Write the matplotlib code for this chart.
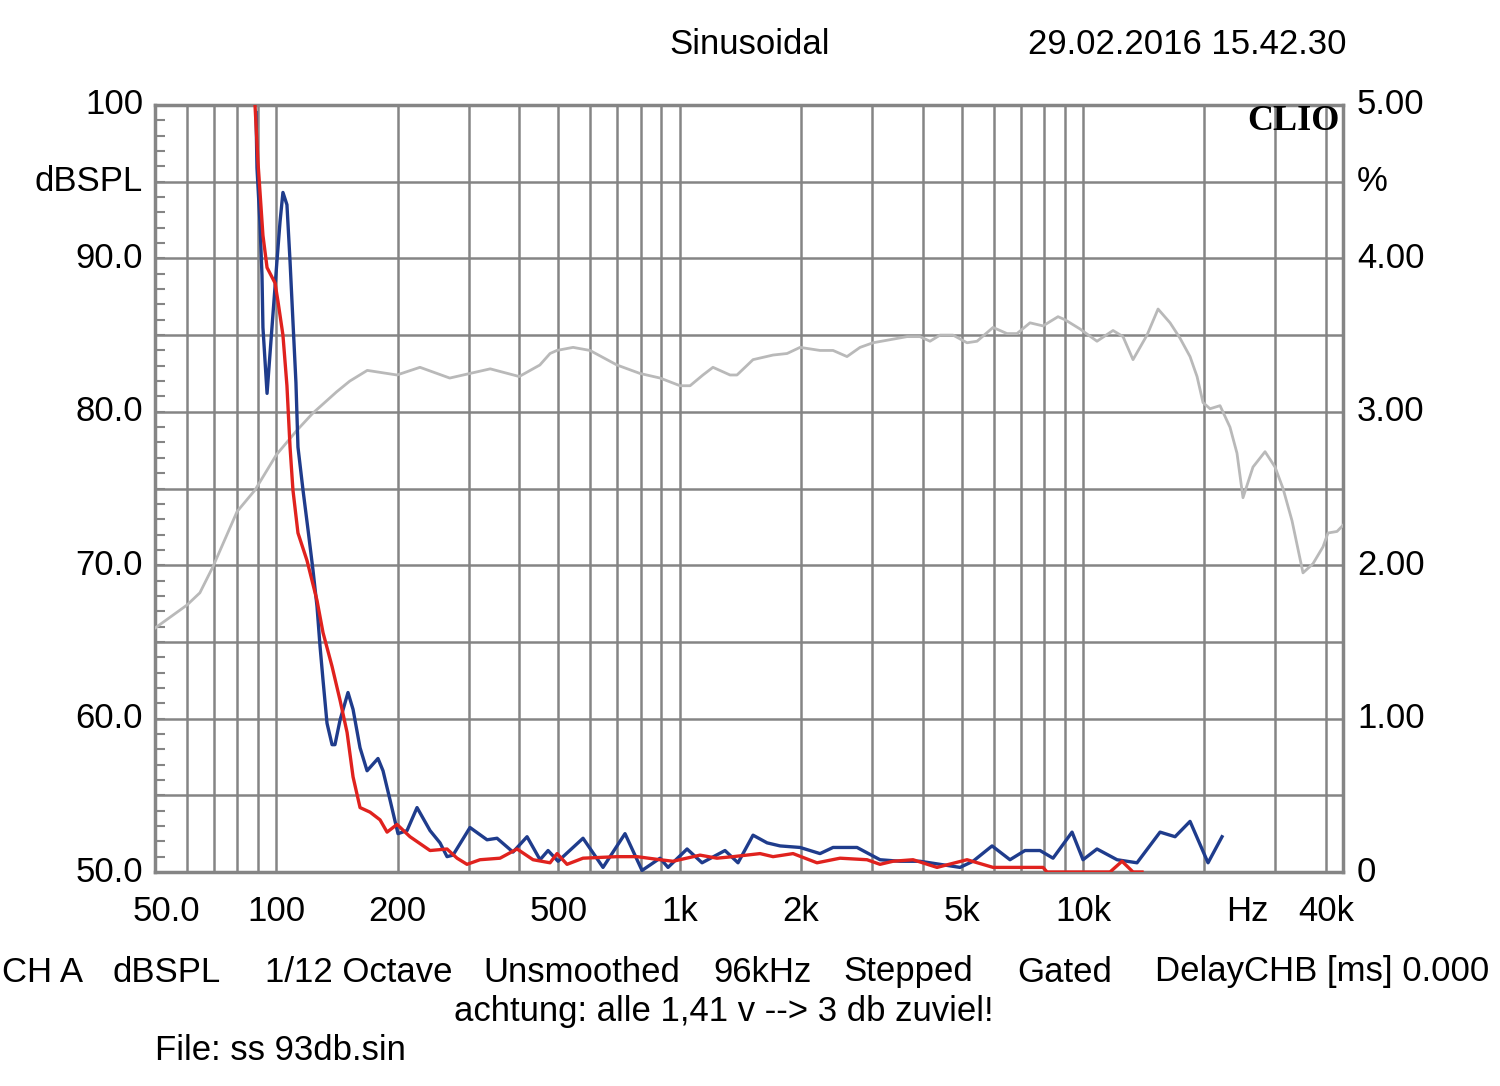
import numpy as np
import matplotlib
matplotlib.use("Agg")
import matplotlib.pyplot as plt
from matplotlib.transforms import blended_transform_factory

plt.rcParams['font.family'] = ['Liberation Sans', 'DejaVu Sans']

# SPL response (left axis, dB)
spl_freq = [50, 60, 64.6, 69.6, 79.9, 88.5, 100, 112.5, 123, 141, 152, 168, 199, 227, 269,
            339, 400, 450, 477, 496, 544, 599, 699, 797, 894, 1002, 1061, 1142, 1209, 1333,
            1387, 1520, 1704, 1846, 1988, 2228, 2400, 2599, 2800, 3015, 3661, 3943, 4175,
            4421, 4761, 5157, 5461, 5984, 6479, 6860, 7388, 7959, 8671, 9025, 9831, 10832,
            11870, 12567, 13305, 14412, 15350, 16440, 17400, 18425, 19176, 19844, 20653,
            21866, 23144, 24089, 24929, 26394, 28273, 29932, 31330, 32980, 35115, 37180,
            39365, 40505, 42640, 44125]
spl_db = [65.9, 67.4, 68.2, 69.9, 73.5, 74.9, 77.2, 78.8, 79.9, 81.3, 82.0, 82.7, 82.4, 82.9, 82.2,
          82.8, 82.3, 83.05, 83.8, 84.0, 84.2, 84.0, 83.05, 82.5, 82.2, 81.7, 81.7, 82.4, 82.9, 82.4,
          82.4, 83.4, 83.7, 83.8, 84.2, 84.0, 84.0, 83.6, 84.2, 84.5, 84.9, 84.9, 84.6,
          85.0, 85.0, 84.5, 84.6, 85.5, 85.1, 85.1, 85.8, 85.6, 86.2, 86.0, 85.4, 84.6,
          85.3, 84.9, 83.4, 85.0, 86.7, 85.8, 84.8, 83.6, 82.3, 80.6, 80.2,
          80.4, 79.0, 77.3, 74.4, 76.4, 77.4, 76.4, 75.0, 72.9, 69.5, 70.1,
          71.2, 72.1, 72.2, 72.6]

# distortion, blue trace (right axis, %)
blue_freq = [89.0, 89.5, 91.0, 92.1, 92.6, 94.8, 97.5, 100.3, 102.1, 103.8, 106.2, 108.1, 109.9,
             111.8, 113.1, 116.4, 119.8, 123.2, 126.1, 128.3, 130.5, 133.5, 137.4, 139.7, 143.8,
             150.5, 154.9, 161.2, 167.8, 178.6, 183.8, 191.3, 200.2, 210.8, 223.2, 240.4, 254.5,
             264.9, 274.1, 302, 332.9, 352.4, 386.1, 418.3, 450.5, 471.6, 499.3, 575.8, 645.4,
             731.8, 806.4, 893.8, 935.5, 1043, 1136, 1295, 1395, 1520, 1647, 1774, 1988, 2228,
             2400, 2752, 3138, 3518, 3943, 4421, 4955, 5337, 5950, 6591, 7180, 7824, 8427,
             9394, 10001, 10832, 12144, 13612, 15526, 16916, 18425, 20418, 22117]
blue_pct = [4.95, 4.59, 4.24, 3.89, 3.55, 3.12, 3.55, 3.98, 4.24, 4.43, 4.35, 3.98, 3.59,
            3.19, 2.77, 2.49, 2.23, 1.97, 1.73, 1.47, 1.25, 0.97, 0.83, 0.83, 0.99,
            1.17, 1.06, 0.81, 0.66, 0.74, 0.66, 0.47, 0.25, 0.27, 0.42, 0.27, 0.19,
            0.10, 0.11, 0.29, 0.21, 0.22, 0.13, 0.23, 0.08, 0.14, 0.07, 0.22, 0.03,
            0.25, 0.01, 0.09, 0.03, 0.15, 0.06, 0.14, 0.06, 0.24, 0.19, 0.17, 0.16, 0.12,
            0.16, 0.16, 0.08, 0.07, 0.07, 0.05, 0.03, 0.07, 0.17, 0.08, 0.14, 0.14, 0.09,
            0.26, 0.08, 0.15, 0.08, 0.06, 0.26, 0.23, 0.33, 0.06, 0.23]

# distortion, red trace (right axis, %)
red_freq = [88.5, 90.0, 92.6, 94.8, 99.2, 100.9, 103.8, 106.2, 108.1, 109.9, 113.1, 119.1,
            126.1, 130.5, 137.4, 143.8, 149.7, 154.9, 161.2, 170.7, 180.7, 188.1, 199.1,
            214.4, 240.4, 264.9, 280.5, 296.9, 319.8, 358.5, 395.1, 432.9, 477, 496.5,
            525.6, 575.8, 699.1, 783.7, 893.8, 962.6, 1123, 1237, 1356, 1582, 1704, 1910,
            2190, 2498, 2914, 3138, 3380, 3789, 4346, 5157, 5984, 7959, 8143, 11668,
            12496, 13305, 14007]
red_pct = [5.0, 4.63, 4.15, 3.94, 3.84, 3.72, 3.50, 3.17, 2.77, 2.49, 2.21, 2.03,
           1.77, 1.56, 1.34, 1.12, 0.91, 0.62, 0.42, 0.39, 0.34, 0.26, 0.31,
           0.23, 0.14, 0.15, 0.09, 0.05, 0.08, 0.09, 0.15, 0.08, 0.06, 0.12,
           0.05, 0.09, 0.10, 0.10, 0.08, 0.07, 0.11, 0.09, 0.10, 0.12, 0.10, 0.12,
           0.06, 0.09, 0.08, 0.05, 0.07, 0.08, 0.03, 0.08, 0.03, 0.03, 0.0, 0.0,
           0.07, 0.0, 0.0]

x_labels = ['50.0', '100', '200', '500', '1k', '2k', '5k', '10k', 'Hz', '40k']
x_label_pos = [53.5, 100, 200, 500, 1000, 2000, 5000, 10000, 25500, 40000]
left_labels = {100: '100', 95: 'dBSPL', 90: '90.0', 80: '80.0', 70: '70.0', 60: '60.0', 50: '50.0'}
right_labels = {5: '5.00', 4.5: '%', 4: '4.00', 3: '3.00', 2: '2.00', 1: '1.00', 0: '0'}

grid_col = '#858585'
fs = 25

fig = plt.figure(figsize=(15, 10.86), dpi=100)
ax = fig.add_axes([155 / 1500, 1 - 872 / 1086, 1188 / 1500, 767 / 1086])
ax.set_xscale('log')
ax.set_xlim(50, 44125)
ax.set_ylim(50, 100)

# log grid
grid_freqs = []
for dec in [10, 100, 1000, 10000]:
    for m in range(1, 10):
        f = m * dec
        if 50 < f < 44000:
            grid_freqs.append(f)
for f in grid_freqs:
    ax.axvline(f, color=grid_col, lw=1.8, zorder=1)
for y in np.arange(55, 100, 5):
    ax.axhline(y, color=grid_col, lw=1.8, zorder=1)

for s in ax.spines.values():
    s.set_color(grid_col)
    s.set_linewidth(2.5)

ax.plot(spl_freq, spl_db, color='#b9b9b9', lw=2.0, zorder=3)

ax.set_xticks([])
ax.set_xticks([], minor=True)
ax.set_yticks([])
ax.set_yticks(np.arange(51, 100, 1), minor=True)
ax.tick_params(which='minor', axis='y', direction='in', length=7, width=1.5,
               color=grid_col, left=True, right=True, labelleft=False)

ax2 = ax.twinx()
ax2.set_ylim(0, 5)
ax2.set_yticks([])
for s in ax2.spines.values():
    s.set_visible(False)
ax2.plot(blue_freq, blue_pct, color='#1f3c8c', lw=2.4, zorder=4)
ax2.plot(red_freq, red_pct, color='#e0221e', lw=2.4, zorder=5)

# axis labels as text
ty = blended_transform_factory(ax.transAxes, ax.transData)
for v, t in left_labels.items():
    ax.text(-0.0101, v, t, transform=ty, ha='right', va='center', fontsize=fs)
for v, t in right_labels.items():
    ax.text(1.0118, v * 10 + 50, t, transform=ty, ha='left', va='center', fontsize=fs)
tx = blended_transform_factory(ax.transData, ax.transAxes)
for p, t in zip(x_label_pos, x_labels):
    ax.text(p, -0.052, t, transform=tx, ha='center', va='center', fontsize=fs)

ax.text(0.9975, 0.979, 'CLIO', transform=ax.transAxes, ha='right', va='center',
        fontsize=26, fontweight='bold', family='Liberation Serif', zorder=6)

fig.text(0.5, 1 - 45 / 1086, 'Sinusoidal', ha='center', va='center', fontsize=fs)
fig.text(1187 / 1500, 1 - 45 / 1086, '29.02.2016 15.42.30', ha='center', va='center', fontsize=fs)

bottom_items = ['CH A', 'dBSPL', '1/12 Octave', 'Unsmoothed', '96kHz', 'Stepped', 'Gated',
                'DelayCHB [ms] 0.000']
bottom_x = [2, 113, 265, 483, 713, 843, 1017, 1155]
for t, x in zip(bottom_items, bottom_x):
    fig.text(x / 1500, 1 - 972 / 1086, t, ha='left', va='center', fontsize=fs)
fig.text(724 / 1500, 1 - 1012 / 1086, 'achtung: alle 1,41 v --> 3 db zuviel!',
         ha='center', va='center', fontsize=fs)
fig.text(155 / 1500, 1 - 1050 / 1086, 'File: ss 93db.sin', ha='left', va='center', fontsize=fs)

fig.savefig('out.png', dpi=100, facecolor='white')
